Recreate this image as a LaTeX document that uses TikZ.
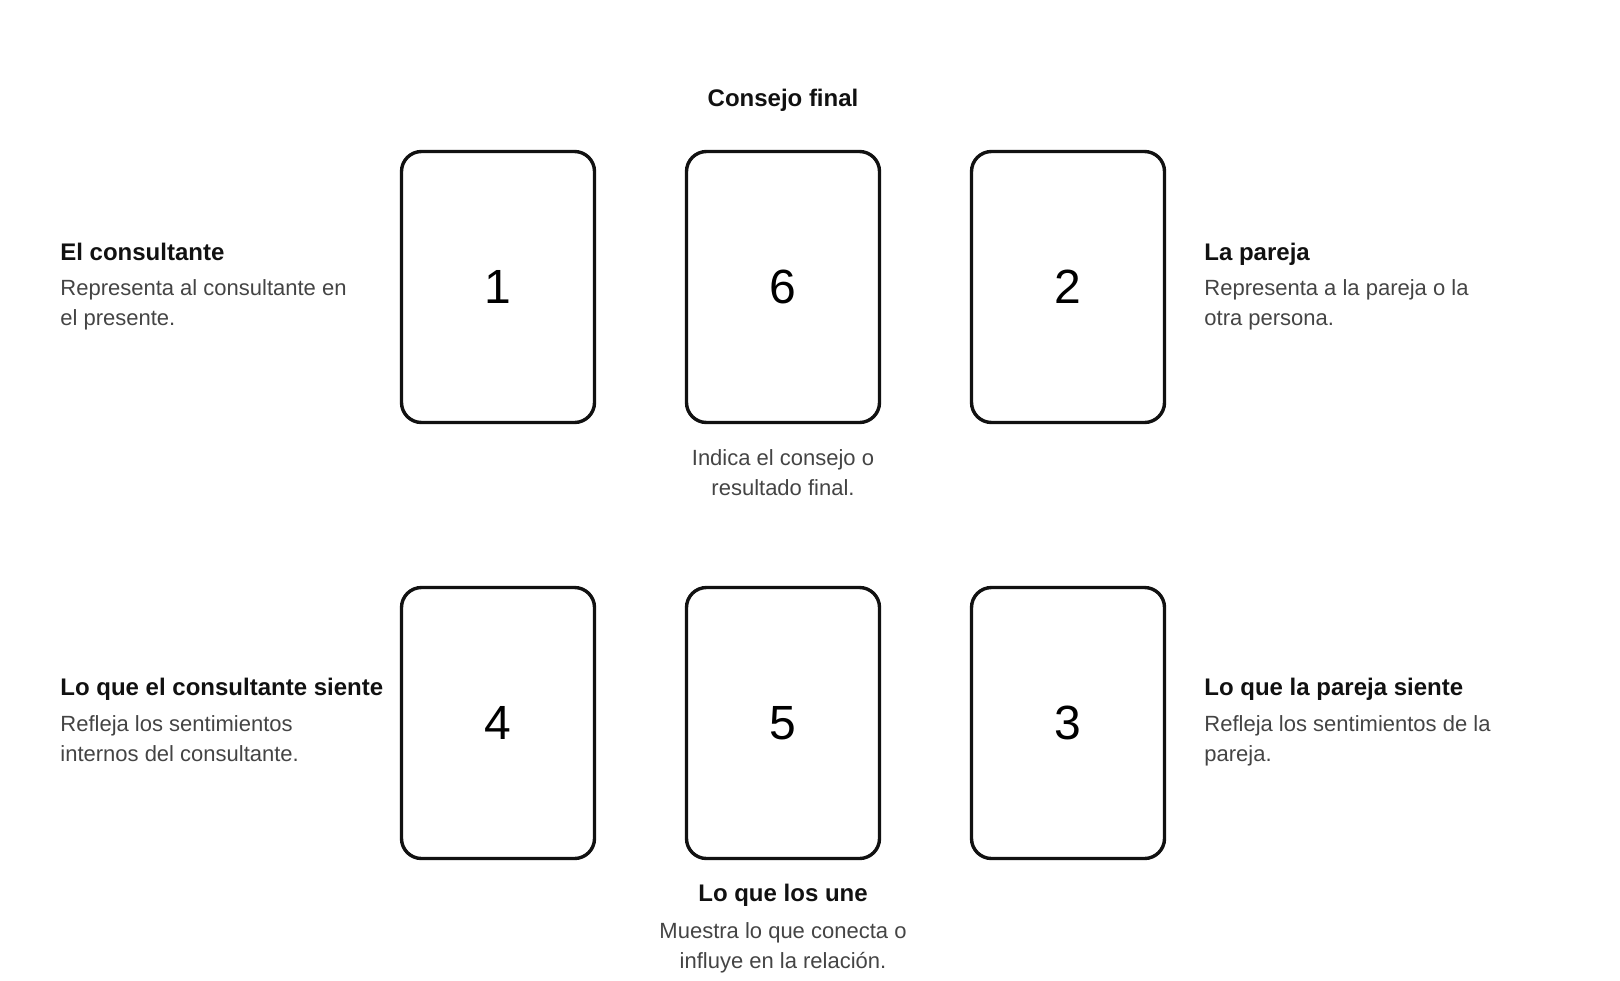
\documentclass[tikz,border=0pt]{standalone}
\usepackage{fontspec}
\setmainfont{Liberation Sans}
\usepackage{tikz}
\usetikzlibrary{positioning}
\definecolor{ink}{HTML}{111111}
\definecolor{note}{HTML}{444444}

\begin{document}
\begin{tikzpicture}[x=0.5pt,y=-0.5pt,
      card/.style={draw=ink, line width=1.7pt, rounded corners=10pt,
        minimum width=96.5pt, minimum height=135.5pt,
        font=\fontsize{24}{28}\selectfont},
      title/.style={text=ink, inner sep=0pt,
        font=\bfseries\fontsize{12}{14}\selectfont},
      desc/.style={text=note, inner sep=0pt, align=left,
        font=\fontsize{11}{15}\selectfont},
      ]
      \useasboundingbox (0,0) rectangle (1620,980);
      % cards
      \node[card] (c1) at (498,287) {1};
      \node[card] (c6) at (783,287) {6};
      \node[card] (c2) at (1068,287) {2};
      \node[card] (c4) at (498,723) {4};
      \node[card] (c5) at (783,723) {5};
      \node[card] (c3) at (1068,723) {3};
      % labels (desc anchored on their last line)
      \node[title, anchor=base] (t6) at (783,106) {Consejo final};
      \node[desc, align=center, anchor=base] (d6) at (783,495) {Indica el consejo o\\resultado final.};
      \node[title, anchor=base west] (t1) at (60,260) {El consultante};
      \node[desc, anchor=base west] (d1) at (60,325) {Representa al consultante en\\el presente.};
      \node[title, anchor=base west] (t2) at (1204,260) {La pareja};
      \node[desc, anchor=base west] (d2) at (1204,325) {Representa a la pareja o la\\otra persona.};
      \node[title, anchor=base west] (t4) at (60,695) {Lo que el consultante siente};
      \node[desc, anchor=base west] (d4) at (60,761) {Refleja los sentimientos\\internos del consultante.};
      \node[title, anchor=base west] (t3) at (1204,695) {Lo que la pareja siente};
      \node[desc, anchor=base west] (d3) at (1204,761) {Refleja los sentimientos de la\\pareja.};
      \node[title, anchor=base] (t5) at (783,901) {Lo que los une};
      \node[desc, align=center, anchor=base] (d5) at (783,968) {Muestra lo que conecta o\\influye en la relación.};
    \end{tikzpicture}
\end{document}
